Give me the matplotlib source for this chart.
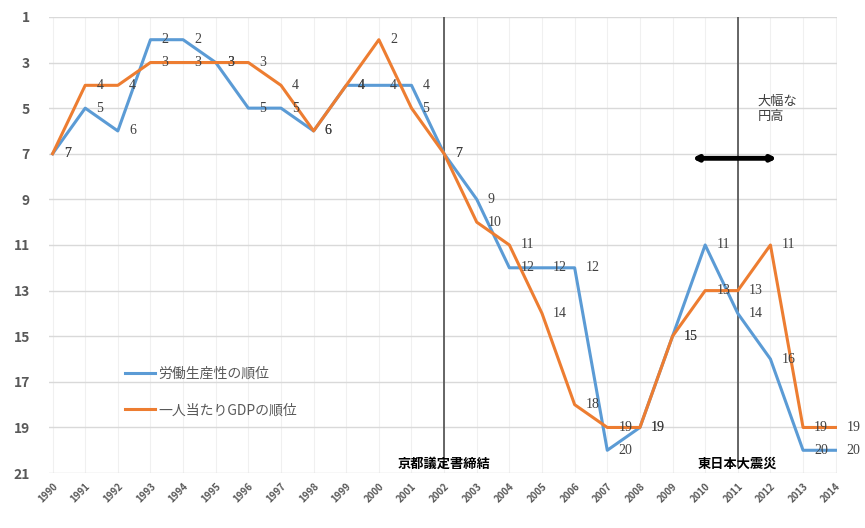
import matplotlib
matplotlib.use("Agg")
import matplotlib.pyplot as plt

plt.rcParams['font.family'] = ['Noto Sans CJK JP', 'DejaVu Sans']

years = list(range(1990, 2015))
productivity_rank = [7, 5, 6, 2, 2, 3, 5, 5, 6, 4, 4, 4, 7, 9, 12, 12, 12, 20, 19, 15, 11, 14, 16, 20, 20]
gdp_rank = [7, 4, 4, 3, 3, 3, 3, 4, 6, 4, 2, 5, 7, 10, 11, 14, 18, 19, 19, 15, 13, 13, 11, 19, 19]
series_names = ["労働生産性の順位", "一人当たりGDPの順位"]
y_ticks = [1, 3, 5, 7, 9, 11, 13, 15, 17, 19, 21]
events = [(2002, "京都議定書締結"), (2011, "東日本大震災")]
yen_span = (2009.6, 2012.2)
yen_level = 7.2
yen_text = "大幅な\n円高"

blue = "#5B9BD5"
orange = "#ED7D31"

fig = plt.figure(figsize=(8.65, 5.28), dpi=100)
ax = fig.add_axes([0.057, 0.104, 0.911, 0.864])

ax.set_xlim(1989.9, 2014.05)
ax.set_ylim(21, 1)

for s in ax.spines.values():
    s.set_visible(False)

ax.set_yticks(y_ticks)
ax.set_xticks(years)
ax.set_xticklabels([str(y) for y in years], rotation=45, ha='right',
                   rotation_mode='anchor', fontsize=7, color='#595959',
                   fontweight='bold')
ax.tick_params(axis='y', labelsize=10, colors='#595959', length=0, pad=14)
ax.tick_params(axis='x', length=0, pad=6)
for lab in ax.get_yticklabels():
    lab.set_fontweight('bold')

ax.grid(axis='y', color='#D9D9D9', linewidth=1.0)
ax.grid(axis='x', color='#F0F0F0', linewidth=0.8)
ax.set_axisbelow(True)

l1, = ax.plot(years, productivity_rank, color=blue, linewidth=2.2, zorder=3)
l2, = ax.plot(years, gdp_rank, color=orange, linewidth=2.2, zorder=3)

for x, y in zip(years, productivity_rank):
    ax.annotate(str(y), (x, y), xytext=(8, 0), textcoords='offset points',
                ha='left', va='center', fontsize=10, color='#404040',
                family='Liberation Serif', zorder=4)
for x, y in zip(years, gdp_rank):
    ax.annotate(str(y), (x, y), xytext=(8, 0), textcoords='offset points',
                ha='left', va='center', fontsize=10, color='#404040',
                family='Liberation Serif', zorder=4)

for x, label in events:
    ax.plot([x, x], [1, 20.7], color='#595959', linewidth=1.3, zorder=2)
    ax.text(x, 20.6, label, ha='center', va='center', fontsize=9.5,
            fontweight='bold', color='black', zorder=5)

ax.annotate('', xy=(yen_span[0], yen_level), xytext=(yen_span[1], yen_level),
            arrowprops=dict(arrowstyle='<|-|>', color='black', linewidth=3.5,
                            mutation_scale=7, shrinkA=0, shrinkB=0), zorder=5)
ax.text(2011.6, 4.4, yen_text, ha='left', va='top', fontsize=9.5,
        color='#404040', linespacing=1.3)

leg = ax.legend([l1, l2], series_names, loc='lower left',
                bbox_to_anchor=(0.08, 0.095), frameon=False, fontsize=10,
                handlelength=2.2, labelspacing=1.6, handletextpad=0.2)
for t in leg.get_texts():
    t.set_color('#595959')

fig.savefig("out.png", dpi=100)
